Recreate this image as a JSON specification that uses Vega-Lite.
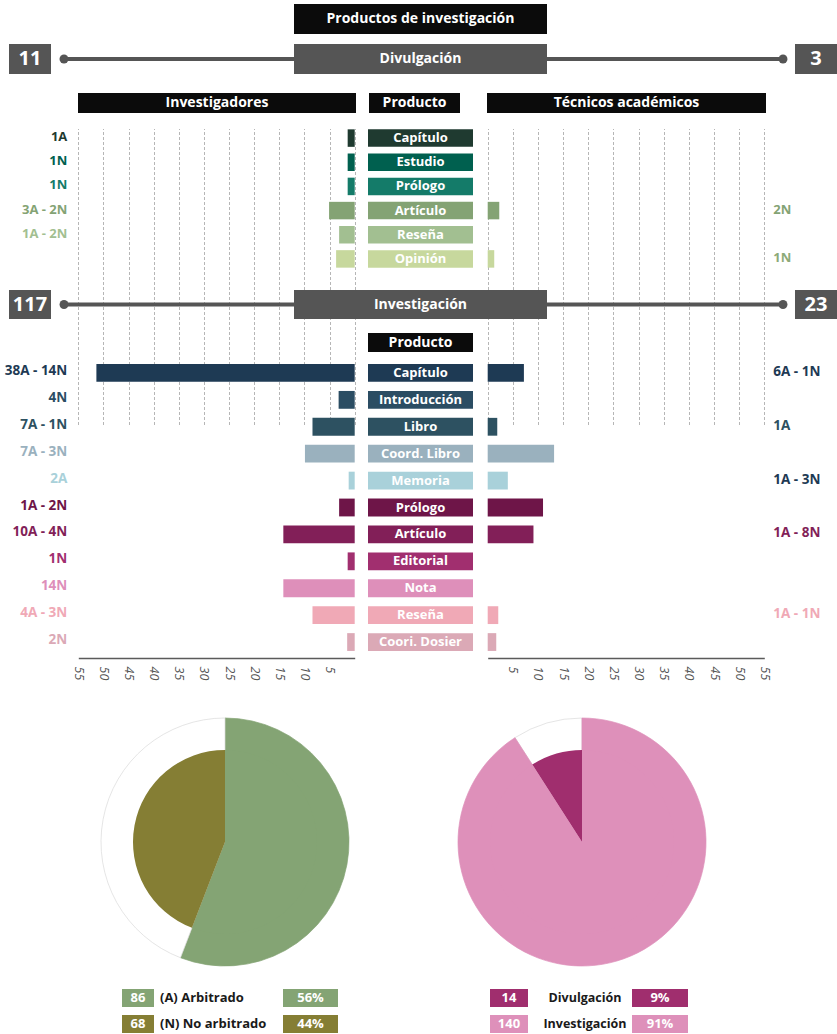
{
"$schema":"https://vega.github.io/schema/vega-lite/v6.json",
"padding":0,
"spacing":0,
"bounds":"flush",
"background":"#ffffff",
"config":{"view":{"stroke":null},"font":"Open Sans","text":{"font":"Open Sans"}},
"datasets":{
 "titulo":[{"titulo":"Productos de investigación"}],
 "columnas":[{"columna":"Investigadores"},{"columna":"Producto"},{"columna":"Técnicos académicos"}],
 "totales":[{"seccion":"Divulgación","investigadores":11,"tecnicos":3},{"seccion":"Investigación","investigadores":117,"tecnicos":23}],
 "productos":[
  {"seccion":"Divulgación","producto":"Capítulo","investigadores":1.4,"tecnicos":0,"etiqueta_inv":"1A","etiqueta_tec":""},
  {"seccion":"Divulgación","producto":"Estudio","investigadores":1.4,"tecnicos":0,"etiqueta_inv":"1N","etiqueta_tec":""},
  {"seccion":"Divulgación","producto":"Prólogo","investigadores":1.4,"tecnicos":0,"etiqueta_inv":"1N","etiqueta_tec":""},
  {"seccion":"Divulgación","producto":"Artículo","investigadores":5.1,"tecnicos":2.3,"etiqueta_inv":"3A - 2N","etiqueta_tec":"2N"},
  {"seccion":"Divulgación","producto":"Reseña","investigadores":3.1,"tecnicos":0,"etiqueta_inv":"1A - 2N","etiqueta_tec":""},
  {"seccion":"Divulgación","producto":"Opinión","investigadores":3.7,"tecnicos":1.3,"etiqueta_inv":"","etiqueta_tec":"1N"},
  {"seccion":"Investigación","producto":"Capítulo","investigadores":51.4,"tecnicos":7.2,"etiqueta_inv":"38A - 14N","etiqueta_tec":"6A - 1N"},
  {"seccion":"Investigación","producto":"Introducción","investigadores":3.2,"tecnicos":0,"etiqueta_inv":"4N","etiqueta_tec":""},
  {"seccion":"Investigación","producto":"Libro","investigadores":8.4,"tecnicos":1.9,"etiqueta_inv":"7A - 1N","etiqueta_tec":"1A"},
  {"seccion":"Investigación","producto":"Coord. Libro","investigadores":9.9,"tecnicos":13.2,"etiqueta_inv":"7A - 3N","etiqueta_tec":""},
  {"seccion":"Investigación","producto":"Memoria","investigadores":1.2,"tecnicos":4.0,"etiqueta_inv":"2A","etiqueta_tec":"1A - 3N"},
  {"seccion":"Investigación","producto":"Prólogo","investigadores":3.1,"tecnicos":11.0,"etiqueta_inv":"1A - 2N","etiqueta_tec":""},
  {"seccion":"Investigación","producto":"Artículo","investigadores":14.2,"tecnicos":9.1,"etiqueta_inv":"10A - 4N","etiqueta_tec":"1A - 8N"},
  {"seccion":"Investigación","producto":"Editorial","investigadores":1.4,"tecnicos":0,"etiqueta_inv":"1N","etiqueta_tec":""},
  {"seccion":"Investigación","producto":"Nota","investigadores":14.2,"tecnicos":0,"etiqueta_inv":"14N","etiqueta_tec":""},
  {"seccion":"Investigación","producto":"Reseña","investigadores":8.4,"tecnicos":2.1,"etiqueta_inv":"4A - 3N","etiqueta_tec":"1A - 1N"},
  {"seccion":"Investigación","producto":"Coori. Dosier","investigadores":1.5,"tecnicos":1.7,"etiqueta_inv":"2N","etiqueta_tec":""}
 ],
 "graficos":[
  {"grafico":"Arbitraje","categoria":"(A) Arbitrado","valor":86,"porcentaje":"56%"},
  {"grafico":"Arbitraje","categoria":"(N) No arbitrado","valor":68,"porcentaje":"44%"},
  {"grafico":"Tipo","categoria":"Divulgación","valor":14,"porcentaje":"9%"},
  {"grafico":"Tipo","categoria":"Investigación","valor":140,"porcentaje":"91%"}
 ]
},
"vconcat":[
{
 "width":837,"height":126,
 "resolve":{"scale":{"x":"independent","y":"independent"}},
 "layer":[
  {
   "data":{"name":"totales"},
   "transform":[{"filter":"datum.seccion === 'Divulgación'"},{"fold":["investigadores","tecnicos"],"as":["grupo","total"]}],
   "encoding":{"y":{"field":"seccion","type":"nominal","scale":{"type":"band","domain":["Divulgación"],"range":[44,74],"paddingInner":0,"paddingOuter":0},"axis":null}},
   "resolve":{"scale":{"x":"independent"}},
   "layer":[
    {"mark":{"type":"line","color":"#555555","strokeWidth":4},"encoding":{"x":{"field":"grupo","type":"nominal","scale":{"type":"point","domain":["investigadores","tecnicos"],"range":[64,783],"padding":0},"axis":null}}},
    {"mark":{"type":"point","filled":true,"color":"#555555","size":80,"opacity":1},"encoding":{"x":{"field":"grupo","type":"nominal","scale":{"type":"point","domain":["investigadores","tecnicos"],"range":[64,783],"padding":0},"axis":null}}},
    {"mark":{"type":"rect","color":"#555555"},"encoding":{"x":{"field":"grupo","type":"nominal","scale":{"type":"band","domain":["investigadores","tecnicos"],"range":[9,837],"paddingInner":0.94656,"paddingOuter":0},"axis":null}}},
    {"mark":{"type":"text","color":"#ffffff","fontWeight":"bold","fontSize":20},"encoding":{"x":{"field":"grupo","type":"nominal","scale":{"type":"band","domain":["investigadores","tecnicos"],"range":[9,837],"paddingInner":0.94656,"paddingOuter":0},"axis":null},"text":{"field":"total","type":"quantitative"}}}
   ]
  },
  {
   "data":{"name":"totales"},
   "transform":[{"filter":"datum.seccion === 'Divulgación'"}],
   "encoding":{
    "x":{"field":"seccion","type":"nominal","scale":{"type":"band","domain":["Divulgación"],"range":[294,547],"paddingInner":0,"paddingOuter":0},"axis":null},
    "y":{"field":"seccion","type":"nominal","scale":{"type":"band","domain":["Divulgación"],"range":[44,74],"paddingInner":0,"paddingOuter":0},"axis":null}},
   "layer":[{"mark":{"type":"rect","color":"#555555"}},{"mark":{"type":"text","color":"#ffffff","fontWeight":"bold","fontSize":14},"encoding":{"text":{"field":"seccion"}}}]
  },
  {
   "data":{"name":"titulo"},
   "encoding":{
    "x":{"field":"titulo","type":"nominal","scale":{"type":"band","domain":["Productos de investigación"],"range":[294,547],"paddingInner":0,"paddingOuter":0},"axis":null},
    "y":{"field":"titulo","type":"nominal","scale":{"type":"band","domain":["Productos de investigación"],"range":[4,34],"paddingInner":0,"paddingOuter":0},"axis":null}},
   "layer":[{"mark":{"type":"rect","color":"#0b0b0b"}},{"mark":{"type":"text","color":"#ffffff","fontWeight":"bold","fontSize":14},"encoding":{"text":{"field":"titulo"}}}]
  },
  {
   "data":{"name":"columnas"},
   "transform":[{"filter":"datum.columna === 'Investigadores'"}],
   "encoding":{
    "x":{"field":"columna","type":"nominal","scale":{"type":"band","domain":["Investigadores"],"range":[78,356],"paddingInner":0,"paddingOuter":0},"axis":null},
    "y":{"field":"columna","type":"nominal","scale":{"type":"band","domain":["Investigadores"],"range":[93,113],"paddingInner":0,"paddingOuter":0},"axis":null}},
   "layer":[{"mark":{"type":"rect","color":"#0b0b0b"}},{"mark":{"type":"text","color":"#ffffff","fontWeight":"bold","fontSize":14},"encoding":{"text":{"field":"columna"}}}]
  },
  {
   "data":{"name":"columnas"},
   "transform":[{"filter":"datum.columna === 'Producto'"}],
   "encoding":{
    "x":{"field":"columna","type":"nominal","scale":{"type":"band","domain":["Producto"],"range":[369,460],"paddingInner":0,"paddingOuter":0},"axis":null},
    "y":{"field":"columna","type":"nominal","scale":{"type":"band","domain":["Producto"],"range":[93,113],"paddingInner":0,"paddingOuter":0},"axis":null}},
   "layer":[{"mark":{"type":"rect","color":"#0b0b0b"}},{"mark":{"type":"text","color":"#ffffff","fontWeight":"bold","fontSize":14},"encoding":{"text":{"field":"columna"}}}]
  },
  {
   "data":{"name":"columnas"},
   "transform":[{"filter":"datum.columna === 'Técnicos académicos'"}],
   "encoding":{
    "x":{"field":"columna","type":"nominal","scale":{"type":"band","domain":["Técnicos académicos"],"range":[487,766],"paddingInner":0,"paddingOuter":0},"axis":null},
    "y":{"field":"columna","type":"nominal","scale":{"type":"band","domain":["Técnicos académicos"],"range":[93,113],"paddingInner":0,"paddingOuter":0},"axis":null}},
   "layer":[{"mark":{"type":"rect","color":"#0b0b0b"}},{"mark":{"type":"text","color":"#ffffff","fontWeight":"bold","fontSize":14},"encoding":{"text":{"field":"columna"}}}]
  }
 ]
},
{
 "width":837,"height":532,
 "resolve":{"scale":{"x":"independent","y":"independent","color":"independent"}},
 "layer":[
  {
   "data":{"name":"productos"},
   "transform":[{"filter":"datum.seccion === 'Divulgación'"}],
   "resolve":{"scale":{"x":"independent","color":"independent"}},
   "encoding":{"y":{"field":"producto","type":"nominal","scale":{"type":"band","domain":["Capítulo","Estudio","Prólogo","Artículo","Reseña","Opinión"],"range":[0,145],"paddingInner":0.276,"paddingOuter":0.138},"axis":null}},
   "layer":[
    {"mark":{"type":"bar"},"encoding":{"x":{"field":"investigadores","type":"quantitative","scale":{"type":"linear","domain":[0,55],"range":[354.7,78.3],"nice":false,"zero":false},"axis":null},"color":{"field":"producto","type":"nominal","scale":{"domain":["Capítulo","Estudio","Prólogo","Artículo","Reseña","Opinión"],"range":["#1f3a30","#00604f","#147b69","#84a374","#a2bf91","#c7d89d"]},"legend":null}}},
    {"mark":{"type":"bar"},"encoding":{"x":{"field":"tecnicos","type":"quantitative","scale":{"type":"linear","domain":[0,55],"range":[487.7,764.3],"nice":false,"zero":false},"axis":null},"color":{"field":"producto","type":"nominal","scale":{"domain":["Capítulo","Estudio","Prólogo","Artículo","Reseña","Opinión"],"range":["#1f3a30","#00604f","#147b69","#84a374","#a2bf91","#c7d89d"]},"legend":null}}},
    {"mark":{"type":"rect"},"encoding":{"x":{"datum":"Producto","type":"nominal","scale":{"type":"band","domain":["Producto"],"range":[368,473],"paddingInner":0,"paddingOuter":0},"axis":null},"color":{"field":"producto","type":"nominal","scale":{"domain":["Capítulo","Estudio","Prólogo","Artículo","Reseña","Opinión"],"range":["#1f3a30","#00604f","#147b69","#84a374","#a2bf91","#c7d89d"]},"legend":null}}},
    {"mark":{"type":"text","color":"#ffffff","fontWeight":"bold","fontSize":13},"encoding":{"x":{"datum":"Producto","type":"nominal","scale":{"type":"band","domain":["Producto"],"range":[368,473],"paddingInner":0,"paddingOuter":0},"axis":null},"text":{"field":"producto"}}},
    {"mark":{"type":"text","align":"right","dx":-11,"dy":-1,"fontWeight":"bold","fontSize":13},"encoding":{"x":{"datum":55,"type":"quantitative","scale":{"type":"linear","domain":[0,55],"range":[354.7,78.3],"nice":false,"zero":false},"axis":null},"text":{"field":"etiqueta_inv"},"color":{"field":"producto","type":"nominal","scale":{"domain":["Capítulo","Estudio","Prólogo","Artículo","Reseña","Opinión"],"range":["#1f3a30","#00604f","#147b69","#84a374","#a2bf91","#c7d89d"]},"legend":null}}},
    {"mark":{"type":"text","align":"left","dx":9,"dy":-1,"fontWeight":"bold","fontSize":13},"encoding":{"x":{"datum":55,"type":"quantitative","scale":{"type":"linear","domain":[0,55],"range":[487.7,764.3],"nice":false,"zero":false},"axis":null},"text":{"field":"etiqueta_tec"},"color":{"field":"producto","type":"nominal","scale":{"domain":["Capítulo","Estudio","Prólogo","Artículo","Reseña","Opinión"],"range":["#1f3a30","#00604f","#147b69","#84a374","#a2bf91","#8daa78"]},"legend":null}}}
   ]
  },
  {
   "data":{"name":"productos"},
   "transform":[{"filter":"datum.seccion === 'Investigación'"}],
   "resolve":{"scale":{"x":"independent","color":"independent"}},
   "encoding":{"y":{"field":"producto","type":"nominal","scale":{"type":"band","domain":["Capítulo","Introducción","Libro","Coord. Libro","Memoria","Prólogo","Artículo","Editorial","Nota","Reseña","Coori. Dosier"],"range":[233.5,529.5],"paddingInner":0.338,"paddingOuter":0.169},"axis":null}},
   "layer":[
    {"mark":{"type":"bar"},"encoding":{"x":{"field":"investigadores","type":"quantitative","scale":{"type":"linear","domain":[0,55],"range":[354.7,78.3],"nice":false,"zero":false},"axis":{"orient":"bottom","values":[0,5,10,15,20,25,30,35,40,45,50,55],"grid":true,"gridDash":[3,2],"gridColor":"#a3a3a3","gridWidth":0.8,"domain":true,"domainColor":"#5a5a5a","domainWidth":1.5,"ticks":false,"labelAngle":90,"labelAlign":"left","labelBaseline":"middle","labelPadding":8,"labelFontSize":12.5,"labelColor":"#555555","labelFontStyle":"italic","labelFont":"Open Sans","labelExpr":"datum.value === 0 ? '' : datum.label","labelOverlap":false,"labelFlush":false,"title":null}},"color":{"field":"producto","type":"nominal","scale":{"domain":["Capítulo","Introducción","Libro","Coord. Libro","Memoria","Prólogo","Artículo","Editorial","Nota","Reseña","Coori. Dosier"],"range":["#1e3a54","#2b4d63","#2d5161","#9ab1be","#a9d1da","#6e1548","#821f58","#a12f6f","#de8fba","#f0a9b6","#dba9b6"]},"legend":null}}},
    {"mark":{"type":"bar"},"encoding":{"x":{"field":"tecnicos","type":"quantitative","scale":{"type":"linear","domain":[0,55],"range":[487.7,764.3],"nice":false,"zero":false},"axis":{"orient":"bottom","values":[0,5,10,15,20,25,30,35,40,45,50,55],"grid":true,"gridDash":[3,2],"gridColor":"#a3a3a3","gridWidth":0.8,"domain":true,"domainColor":"#5a5a5a","domainWidth":1.5,"ticks":false,"labelAngle":90,"labelAlign":"left","labelBaseline":"middle","labelPadding":8,"labelFontSize":12.5,"labelColor":"#555555","labelFontStyle":"italic","labelFont":"Open Sans","labelExpr":"datum.value === 0 ? '' : datum.label","labelOverlap":false,"labelFlush":false,"title":null}},"color":{"field":"producto","type":"nominal","scale":{"domain":["Capítulo","Introducción","Libro","Coord. Libro","Memoria","Prólogo","Artículo","Editorial","Nota","Reseña","Coori. Dosier"],"range":["#1e3a54","#2b4d63","#2d5161","#9ab1be","#a9d1da","#6e1548","#821f58","#a12f6f","#de8fba","#f0a9b6","#dba9b6"]},"legend":null}}},
    {"mark":{"type":"rect"},"encoding":{"x":{"datum":"Producto","type":"nominal","scale":{"type":"band","domain":["Producto"],"range":[368,473],"paddingInner":0,"paddingOuter":0},"axis":null},"color":{"field":"producto","type":"nominal","scale":{"domain":["Capítulo","Introducción","Libro","Coord. Libro","Memoria","Prólogo","Artículo","Editorial","Nota","Reseña","Coori. Dosier"],"range":["#1e3a54","#2b4d63","#2d5161","#9ab1be","#a9d1da","#6e1548","#821f58","#a12f6f","#de8fba","#f0a9b6","#dba9b6"]},"legend":null}}},
    {"mark":{"type":"text","color":"#ffffff","fontWeight":"bold","fontSize":13},"encoding":{"x":{"datum":"Producto","type":"nominal","scale":{"type":"band","domain":["Producto"],"range":[368,473],"paddingInner":0,"paddingOuter":0},"axis":null},"text":{"field":"producto"}}},
    {"mark":{"type":"text","align":"right","dx":-11,"dy":-2,"fontWeight":"bold","fontSize":13.5},"encoding":{"x":{"datum":55,"type":"quantitative","scale":{"type":"linear","domain":[0,55],"range":[354.7,78.3],"nice":false,"zero":false},"axis":null},"text":{"field":"etiqueta_inv"},"color":{"field":"producto","type":"nominal","scale":{"domain":["Capítulo","Introducción","Libro","Coord. Libro","Memoria","Prólogo","Artículo","Editorial","Nota","Reseña","Coori. Dosier"],"range":["#1e3a54","#2b4d63","#2d5161","#9ab1be","#a9d1da","#6e1548","#821f58","#a12f6f","#de8fba","#f0a9b6","#dba9b6"]},"legend":null}}},
    {"mark":{"type":"text","align":"left","dx":9,"dy":-1,"fontWeight":"bold","fontSize":13.5},"encoding":{"x":{"datum":55,"type":"quantitative","scale":{"type":"linear","domain":[0,55],"range":[487.7,764.3],"nice":false,"zero":false},"axis":null},"text":{"field":"etiqueta_tec"},"color":{"field":"producto","type":"nominal","scale":{"domain":["Capítulo","Introducción","Libro","Coord. Libro","Memoria","Prólogo","Artículo","Editorial","Nota","Reseña","Coori. Dosier"],"range":["#1e3a54","#2b4d63","#2d5161","#9ab1be","#1e3a54","#6e1548","#821f58","#a12f6f","#de8fba","#f0a9b6","#dba9b6"]},"legend":null}}}
   ]
  },
  {
   "data":{"name":"totales"},
   "transform":[{"filter":"datum.seccion === 'Investigación'"},{"fold":["investigadores","tecnicos"],"as":["grupo","total"]}],
   "encoding":{"y":{"field":"seccion","type":"nominal","scale":{"type":"band","domain":["Investigación"],"range":[164,193],"paddingInner":0,"paddingOuter":0},"axis":null}},
   "resolve":{"scale":{"x":"independent"}},
   "layer":[
    {"mark":{"type":"line","color":"#555555","strokeWidth":4},"encoding":{"x":{"field":"grupo","type":"nominal","scale":{"type":"point","domain":["investigadores","tecnicos"],"range":[64,783],"padding":0},"axis":null}}},
    {"mark":{"type":"point","filled":true,"color":"#555555","size":80,"opacity":1},"encoding":{"x":{"field":"grupo","type":"nominal","scale":{"type":"point","domain":["investigadores","tecnicos"],"range":[64,783],"padding":0},"axis":null}}},
    {"mark":{"type":"rect","color":"#555555"},"encoding":{"x":{"field":"grupo","type":"nominal","scale":{"type":"band","domain":["investigadores","tecnicos"],"range":[9,837],"paddingInner":0.94656,"paddingOuter":0},"axis":null}}},
    {"mark":{"type":"text","color":"#ffffff","fontWeight":"bold","fontSize":20},"encoding":{"x":{"field":"grupo","type":"nominal","scale":{"type":"band","domain":["investigadores","tecnicos"],"range":[9,837],"paddingInner":0.94656,"paddingOuter":0},"axis":null},"text":{"field":"total","type":"quantitative"}}}
   ]
  },
  {
   "data":{"name":"totales"},
   "transform":[{"filter":"datum.seccion === 'Investigación'"}],
   "encoding":{
    "x":{"field":"seccion","type":"nominal","scale":{"type":"band","domain":["Investigación"],"range":[294,547],"paddingInner":0,"paddingOuter":0},"axis":null},
    "y":{"field":"seccion","type":"nominal","scale":{"type":"band","domain":["Investigación"],"range":[164,193],"paddingInner":0,"paddingOuter":0},"axis":null}},
   "layer":[{"mark":{"type":"rect","color":"#555555"}},{"mark":{"type":"text","color":"#ffffff","fontWeight":"bold","fontSize":14},"encoding":{"text":{"field":"seccion"}}}]
  },
  {
   "data":{"name":"columnas"},
   "transform":[{"filter":"datum.columna === 'Producto'"}],
   "encoding":{
    "x":{"field":"columna","type":"nominal","scale":{"type":"band","domain":["Producto"],"range":[368,473],"paddingInner":0,"paddingOuter":0},"axis":null},
    "y":{"field":"columna","type":"nominal","scale":{"type":"band","domain":["Producto"],"range":[207,226],"paddingInner":0,"paddingOuter":0},"axis":null}},
   "layer":[{"mark":{"type":"rect","color":"#0b0b0b"}},{"mark":{"type":"text","color":"#ffffff","fontWeight":"bold","fontSize":14},"encoding":{"text":{"field":"columna"}}}]
  }
 ]
},
{
 "width":837,"height":376,
 "resolve":{"scale":{"x":"independent","y":"independent","color":"independent","stroke":"independent","theta":"independent"}},
 "layer":[
  {
   "data":{"name":"graficos"},
   "transform":[{"filter":"datum.grafico === 'Arbitraje'"}],
   "encoding":{
    "theta":{"field":"valor","type":"quantitative","stack":true},
    "order":{"field":"valor","type":"quantitative","sort":"descending"},
    "x":{"field":"grafico","type":"nominal","scale":{"type":"point","domain":["Arbitraje"],"range":[101,349],"padding":0},"axis":null},
    "y":{"field":"grafico","type":"nominal","scale":{"type":"point","domain":["Arbitraje"],"range":[60,308],"padding":0},"axis":null}},
   "resolve":{"scale":{"color":"independent","stroke":"independent"}},
   "layer":[
    {"mark":{"type":"arc","outerRadius":124,"strokeWidth":0.7},"encoding":{"color":{"field":"categoria","type":"nominal","scale":{"domain":["(A) Arbitrado","(N) No arbitrado"],"range":["#84a474","#ffffff"]},"legend":null},"stroke":{"field":"categoria","type":"nominal","scale":{"domain":["(A) Arbitrado","(N) No arbitrado"],"range":["#84a474","#dadada"]},"legend":null}}},
    {"mark":{"type":"arc","outerRadius":92},"encoding":{"color":{"field":"categoria","type":"nominal","scale":{"domain":["(A) Arbitrado","(N) No arbitrado"],"range":["#84a474","#857e34"]},"legend":null}}}
   ]
  },
  {
   "data":{"name":"graficos"},
   "transform":[{"filter":"datum.grafico === 'Tipo'"}],
   "encoding":{
    "theta":{"field":"valor","type":"quantitative","stack":true},
    "order":{"field":"valor","type":"quantitative","sort":"descending"},
    "x":{"field":"grafico","type":"nominal","scale":{"type":"point","domain":["Tipo"],"range":[458,706],"padding":0},"axis":null},
    "y":{"field":"grafico","type":"nominal","scale":{"type":"point","domain":["Tipo"],"range":[60,308],"padding":0},"axis":null}},
   "resolve":{"scale":{"color":"independent","stroke":"independent"}},
   "layer":[
    {"mark":{"type":"arc","outerRadius":124,"strokeWidth":0.7},"encoding":{"color":{"field":"categoria","type":"nominal","scale":{"domain":["Divulgación","Investigación"],"range":["#ffffff","#de90ba"]},"legend":null},"stroke":{"field":"categoria","type":"nominal","scale":{"domain":["Divulgación","Investigación"],"range":["#dadada","#de90ba"]},"legend":null}}},
    {"mark":{"type":"arc","outerRadius":92},"encoding":{"color":{"field":"categoria","type":"nominal","scale":{"domain":["Divulgación","Investigación"],"range":["#a02e6e","#de90ba"]},"legend":null}}}
   ]
  },
  {
   "data":{"name":"graficos"},
   "transform":[{"filter":"datum.grafico === 'Arbitraje'"}],
   "encoding":{"y":{"field":"categoria","type":"nominal","scale":{"type":"band","domain":["(A) Arbitrado","(N) No arbitrado"],"range":[331,375],"paddingInner":0.3077,"paddingOuter":0},"axis":null}},
   "resolve":{"scale":{"x":"independent"}},
   "layer":[
    {"mark":{"type":"rect"},"encoding":{"x":{"datum":"valor","type":"nominal","scale":{"type":"band","domain":["valor"],"range":[122,154],"paddingInner":0,"paddingOuter":0},"axis":null},"color":{"field":"categoria","type":"nominal","scale":{"domain":["(A) Arbitrado","(N) No arbitrado"],"range":["#84a474","#857e34"]},"legend":null}}},
    {"mark":{"type":"text","color":"#ffffff","fontWeight":"bold","fontSize":13},"encoding":{"x":{"datum":"valor","type":"nominal","scale":{"type":"band","domain":["valor"],"range":[122,154],"paddingInner":0,"paddingOuter":0},"axis":null},"text":{"field":"valor","type":"quantitative"}}},
    {"mark":{"type":"text","color":"#1a1a1a","fontWeight":"bold","fontSize":13,"align":"left"},"encoding":{"x":{"datum":"categoria","type":"nominal","scale":{"type":"point","domain":["categoria"],"range":[160,260],"padding":0,"align":0},"axis":null},"text":{"field":"categoria"}}},
    {"mark":{"type":"rect"},"encoding":{"x":{"datum":"porcentaje","type":"nominal","scale":{"type":"band","domain":["porcentaje"],"range":[283,338],"paddingInner":0,"paddingOuter":0},"axis":null},"color":{"field":"categoria","type":"nominal","scale":{"domain":["(A) Arbitrado","(N) No arbitrado"],"range":["#84a474","#857e34"]},"legend":null}}},
    {"mark":{"type":"text","color":"#ffffff","fontWeight":"bold","fontSize":13},"encoding":{"x":{"datum":"porcentaje","type":"nominal","scale":{"type":"band","domain":["porcentaje"],"range":[283,338],"paddingInner":0,"paddingOuter":0},"axis":null},"text":{"field":"porcentaje"}}}
   ]
  },
  {
   "data":{"name":"graficos"},
   "transform":[{"filter":"datum.grafico === 'Tipo'"}],
   "encoding":{"y":{"field":"categoria","type":"nominal","scale":{"type":"band","domain":["Divulgación","Investigación"],"range":[331,375],"paddingInner":0.3077,"paddingOuter":0},"axis":null}},
   "resolve":{"scale":{"x":"independent"}},
   "layer":[
    {"mark":{"type":"rect"},"encoding":{"x":{"datum":"valor","type":"nominal","scale":{"type":"band","domain":["valor"],"range":[490,528],"paddingInner":0,"paddingOuter":0},"axis":null},"color":{"field":"categoria","type":"nominal","scale":{"domain":["Divulgación","Investigación"],"range":["#a02e6e","#de90ba"]},"legend":null}}},
    {"mark":{"type":"text","color":"#ffffff","fontWeight":"bold","fontSize":13},"encoding":{"x":{"datum":"valor","type":"nominal","scale":{"type":"band","domain":["valor"],"range":[490,528],"paddingInner":0,"paddingOuter":0},"axis":null},"text":{"field":"valor","type":"quantitative"}}},
    {"mark":{"type":"text","color":"#1a1a1a","fontWeight":"bold","fontSize":12.5},"encoding":{"x":{"datum":"categoria","type":"nominal","scale":{"type":"band","domain":["categoria"],"range":[542,628],"paddingInner":0,"paddingOuter":0},"axis":null},"text":{"field":"categoria"}}},
    {"mark":{"type":"rect"},"encoding":{"x":{"datum":"porcentaje","type":"nominal","scale":{"type":"band","domain":["porcentaje"],"range":[632,688],"paddingInner":0,"paddingOuter":0},"axis":null},"color":{"field":"categoria","type":"nominal","scale":{"domain":["Divulgación","Investigación"],"range":["#a02e6e","#de90ba"]},"legend":null}}},
    {"mark":{"type":"text","color":"#ffffff","fontWeight":"bold","fontSize":13},"encoding":{"x":{"datum":"porcentaje","type":"nominal","scale":{"type":"band","domain":["porcentaje"],"range":[632,688],"paddingInner":0,"paddingOuter":0},"axis":null},"text":{"field":"porcentaje"}}}
   ]
  }
 ]
}
]
}
